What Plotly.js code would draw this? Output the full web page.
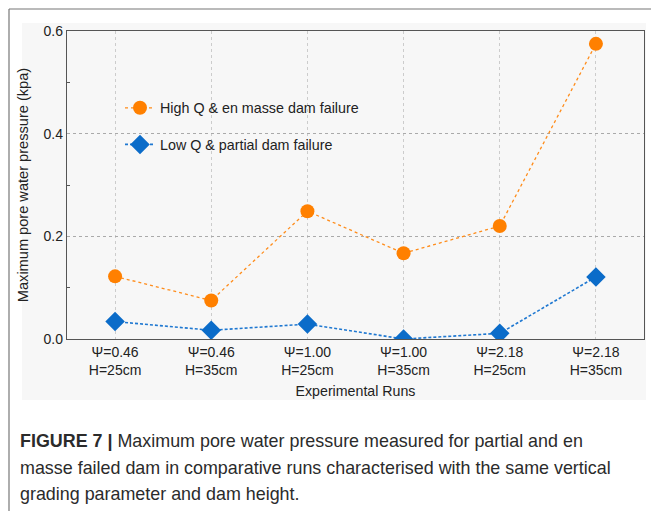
<!DOCTYPE html>
<html>
<head>
<meta charset="utf-8">
<script src="https://cdn.plot.ly/plotly-3.0.1.min.js"></script>
<style>
html,body{margin:0;padding:0;background:#fff;}
#chart{width:651px;height:511px;}
</style>
</head>
<body>
<div id="chart"></div>
<script>
const categories = ["Ψ=0.46<br>H=25cm", "Ψ=0.46<br>H=35cm", "Ψ=1.00<br>H=25cm", "Ψ=1.00<br>H=35cm", "Ψ=2.18<br>H=25cm", "Ψ=2.18<br>H=35cm"];
const highQ = [0.122, 0.075, 0.249, 0.167, 0.220, 0.575];
const lowQ = [0.034, 0.017, 0.029, 0.000, 0.011, 0.121];
const seriesNames = ["High Q &amp; en masse dam failure", "Low Q &amp; partial dam failure"];
const captionLines = [
  "<b>FIGURE 7 |</b> Maximum pore water pressure measured for partial and en",
  "masse failed dam in comparative runs characterised with the same vertical",
  "grading parameter and dam height."
];

const font = "Liberation Sans, Arial, sans-serif";

const traces = [
  {
    x: categories, y: highQ, name: seriesNames[0], type: "scatter", mode: "lines+markers",
    legendgroup: "a",
    line: {color: "#ff8c1a", width: 1.3, dash: "dot"},
    marker: {color: "#ff8000", size: 14, symbol: "circle"}
  },
  {
    x: categories, y: lowQ, name: seriesNames[1], type: "scatter", mode: "lines+markers",
    legendgroup: "b",
    line: {color: "#1f78d1", width: 1.6, dash: "3px,2px"},
    marker: {color: "#0b6cc9", size: 15, symbol: "diamond"}
  }
];

const W = 651, H = 511;
const L = 67, R = 644, T = 31, B = 339;
const px = v => (v - L) / (R - L);
const py = v => (B - v) / (B - T);

const annotations = captionLines.map((t, i) => ({
  text: t, xref: "paper", yref: "paper", x: px(18), y: py(441 + i * 26.5),
  xanchor: "left", yanchor: "middle", showarrow: false, align: "left",
  font: {family: font, size: 17.9, color: "#2b2b2b"}
}));

const layout = {
  width: W, height: H,
  margin: {l: L, r: W - R, t: T, b: H - B, pad: 0},
  paper_bgcolor: "#ffffff",
  plot_bgcolor: "#f9f9f9",
  font: {family: font, size: 14, color: "#222"},
  showlegend: true,
  legend: {
    x: px(120), y: py(92), xanchor: "left", yanchor: "top",
    bgcolor: "rgba(0,0,0,0)", borderwidth: 0,
    font: {family: font, size: 14.3, color: "#222"},
    traceorder: "grouped", tracegroupgap: 15
  },
  xaxis: {
    type: "category", range: [-0.5, 5.5],
    showline: true, mirror: true, linecolor: "#555", linewidth: 1.2,
    showgrid: true, gridcolor: "#cccccc", griddash: "dot", gridwidth: 1,
    ticks: "", tickfont: {family: font, size: 14, color: "#222"},
    title: {text: "Experimental Runs", font: {family: font, size: 14.2, color: "#222"}, standoff: 8},
    zeroline: false, fixedrange: true
  },
  yaxis: {
    range: [0, 0.6], dtick: 0.2, tickformat: ".1f",
    showline: true, mirror: true, linecolor: "#555", linewidth: 1.2,
    showgrid: true, gridcolor: "#aaaaaa", griddash: "dot", gridwidth: 1,
    ticks: "", tickfont: {family: font, size: 14, color: "#222"},
    minor: {dtick: 0.1, ticks: "inside", ticklen: 3, tickcolor: "#555", showgrid: false},
    title: {text: "Maximum pore water pressure (kpa)", font: {family: font, size: 14.6, color: "#222"}, standoff: 11},
    zeroline: false, fixedrange: true
  },
  shapes: [
    {type: "rect", xref: "paper", yref: "paper", x0: px(22), x1: px(646), y0: py(23), y1: py(400),
     fillcolor: "#f7f7f7", line: {width: 0}, layer: "below"},
    {type: "line", xref: "paper", yref: "paper", x0: px(9), x1: px(9), y0: py(9), y1: py(512),
     line: {color: "#777", width: 1.2}},
    {type: "line", xref: "paper", yref: "paper", x0: px(9), x1: px(652), y0: py(9), y1: py(9),
     line: {color: "#777", width: 1.2}}
  ],
  annotations: annotations
};

Plotly.newPlot("chart", traces, layout, {displayModeBar: false, staticPlot: true});
</script>
</body>
</html>
